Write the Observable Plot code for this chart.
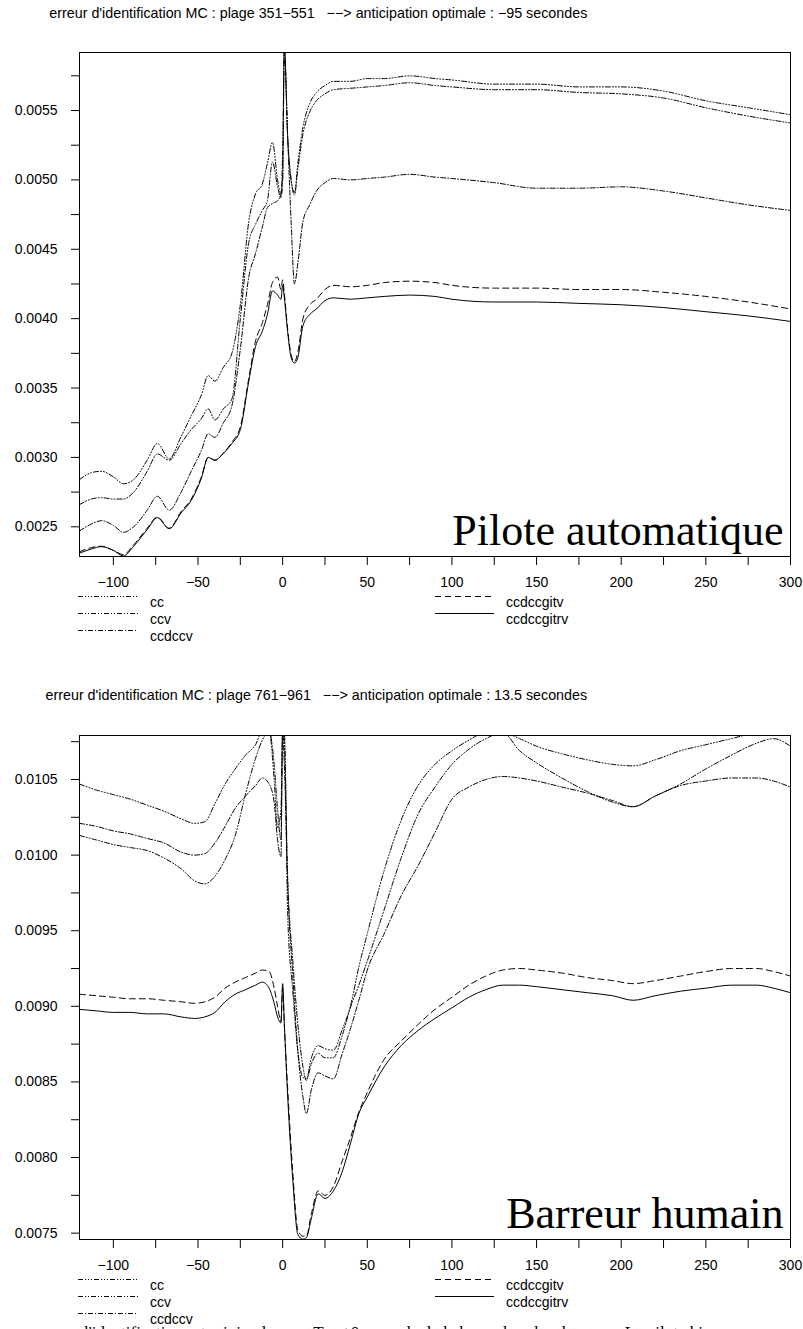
<!DOCTYPE html>
<html><head><meta charset="utf-8">
<script src="https://cdn.jsdelivr.net/npm/d3@7"></script>
<script src="https://cdn.jsdelivr.net/npm/@observablehq/plot@0.6"></script>
<style>
body{margin:0;background:#fff;}
#root{position:relative;width:803px;height:1329px;overflow:hidden;background:#fff;}
#root > div, #root > svg{position:absolute;left:0;}
</style></head><body><div id="root"></div>
<script>
// ---------------- data ----------------
const seriesNames = ["cc", "ccv", "ccdccv", "ccdccgitv", "ccdccgitrv"];
const dashes = ["5,2,1,2,1,2,1,2", "5,2,1,2,1,2", "5,2,1,2", "6,4", null];

const titleTop = "erreur d'identification MC : plage 351\u2212551   \u2212\u2212> anticipation optimale : \u221295 secondes";
const titleBottom = "erreur d'identification MC : plage 761\u2212961   \u2212\u2212> anticipation optimale : 13.5 secondes";
const labelTop = "Pilote automatique";
const labelBottom = "Barreur humain";
const caption = "l'identification est minimale pour T \u2248 +0 seconde de la barre dans les deux cas. Le pilote hi";

const xTicks = [-100, -75, -50, -25, 0, 25, 50, 75, 100, 125, 150, 175, 200, 225, 250, 275, 300];
const yTicksTop = [0.0025, 0.00275, 0.003, 0.00325, 0.0035, 0.00375, 0.004, 0.00425, 0.0045, 0.00475, 0.005, 0.00525, 0.0055, 0.00575];
const yTicksBottom = [0.0075, 0.00775, 0.008, 0.00825, 0.0085, 0.00875, 0.009, 0.00925, 0.0095, 0.00975, 0.01, 0.01025, 0.0105, 0.01075];

// top panel (Pilote automatique)
const xT = [-120,-113,-107,-100,-94,-88,-80,-74,-67,-60,-54,-48,-44,-40,-35,-30,-25,-20,-16,-12,-9,-6,-3,-1,0,1,3,5,7,9,12,16,20,25,30,40,50,60,75,90,100,125,150,175,200,225,250,275,300];
const topCc = [.00284,.00289,.00290,.00286,.00281,.00284,.00298,.00310,.00299,.00315,
  .00330,.00345,.00359,.00355,.00365,.00375,.00410,.00470,.00490,.00497,
  .00512,.00527,.00500,.00490,.00500,.00595,.00530,.00500,.00491,.00512,
  .00538,.00555,.00563,.00568,.00571,.00571,.00573,.00573,.00575,.00573,
  .00572,.00569,.00569,.00567,.00567,.00564,.00557,.00552,.00547];
const topCcv = [.00266,.00270,.00271,.00270,.00270,.00275,.00290,.003025,.00298,.00310,
  .00320,.00328,.00335,.00327,.00335,.00342,.00400,.00455,.00468,.00478,
  .00485,.00513,.00495,.00487,.00500,.00595,.00530,.00500,.00489,.00508,
  .00533,.00549,.00557,.00562,.00565,.00566,.00567,.00568,.00570,.00568,
  .00567,.00565,.00565,.00563,.00562,.00559,.00552,.00546,.00541];
const topCcdccv = [.00247,.00252,.002544,.00251,.00246,.00250,.00262,.00272,.00262,.00275,
  .00290,.00305,.00317,.003145,.00325,.00337,.00378,.00430,.00447,.00466,
  .00480,.00483,.00485,.00490,.00520,.00595,.00530,.00470,.00425,.00440,
  .00470,.00482,.00492,.00498,.00501,.00500,.00501,.00502,.00504,.00502,
  .00501,.00498,.00494,.00494,.00495,.00492,.00487,.00482,.00478];
const topGitv = [.00232,.00235,.00236,.00233,.00230,.00237,.00249,.00257,.00249,.00261,
  .00270,.00286,.00300,.00298,.00303,.00311,.00322,.00357,.00384,.00397,
  .00410,.00426,.00430,.00421,.00428,.00418,.00392,.00374,.00369,.00376,
  .00400,.00410,.00414,.00421,.00424,.00423,.00424,.00426,.00427,.00426,
  .00424,.00422,.00422,.00421,.00421,.00419,.00416,.00412,.00407];
const topGitrv = [.00231,.00234,.002357,.00233,.00229,.00236,.00248,.002566,.002486,.00260,
  .00269,.00285,.00300,.00298,.00303,.00310,.00320,.00355,.00380,.00391,
  .00403,.00420,.00417,.00414,.00424,.00415,.00390,.00372,.00368,.00372,
  .00395,.00403,.00407,.00413,.00415,.00414,.00415,.00416,.00417,.00416,
  .00414,.00412,.00412,.00411,.00410,.00408,.00405,.00402,.00398];

// bottom panel (Barreur humain)
const xB = [-120,-110,-100,-90,-80,-70,-60,-52,-46,-40,-34,-28,-22,-16,-12,-8,-5,-3,-1,0,1,3,6,9,12,14,17,21,25,30,35,40,45,50,60,70,80,90,100,110,120,130,140,150,165,180,195,207,220,235,250,265,280,290,300];
const botCc = [.01047,.01043,.01040,.01037,.01033,.01029,.01024,.01021,.01022,.01034,
  .01047,.01057,.01066,.01073,.01082,.01082,.01050,.01018,.01030,.01082,
  .01082,.00960,.00910,.00870,.00853,.00852,.00866,.00874,.00872,.00871,
  .00884,.00900,.00926,.00948,.00990,.01023,.01046,.01060,.01069,.01076,
  .01081,.01081,.01077,.01072,.01067,.01063,.01060,.01059,.01063,.01069,
  .01073,.01077,.01081,.01082,.01082];
const botCcv = [.01013,.01010,.01007,.01005,.01003,.00998,.00991,.00983,.00981,.00986,
  .00997,.01013,.01040,.01064,.01076,.01082,.01060,.01030,.01010,.01082,
  .01075,.00985,.00930,.00888,.00860,.00851,.00862,.00869,.00866,.00866,
  .00880,.00899,.00914,.00930,.00964,.00998,.01027,.01045,.01060,.01070,
  .01077,.01081,.01069,.01061,.01051,.01042,.01035,.01032,.01039,.01047,
  .01057,.01066,.01074,.01077,.01072];
const botCcdccv = [.01021,.01019,.01016,.01014,.01011,.01008,.01002,.01000,.01001,.01008,
  .01019,.01031,.01039,.01046,.01051,.01047,.01035,.01010,.00999,.01082,
  .01060,.00980,.00920,.00870,.00840,.00829,.00845,.00856,.00854,.00852,
  .00868,.00885,.00904,.00924,.00948,.00973,.00993,.01015,.01037,.01045,
  .01050,.01052,.01051,.01049,.01045,.01041,.01036,.01032,.01039,.01046,
  .01049,.01051,.01051,.01049,.01045];
const botGitv = [.00908,.00907,.00906,.00905,.00905,.00904,.00903,.00902,.00903,.00906,
  .00912,.00916,.00919,.00922,.00924,.00923,.00912,.00900,.00890,.00912,
  .00888,.00845,.00790,.00752,.00748,.00748,.00763,.00778,.00775,.00781,
  .00797,.00813,.00830,.00843,.00865,.00877,.00888,.00898,.00906,.00914,
  .00920,.00924,.00925,.00924,.00922,.00919,.00917,.00915,.00917,.00920,
  .00923,.00925,.00925,.00923,.00920];
const botGitrv = [.00898,.00897,.00896,.00896,.00895,.00895,.00893,.00892,.00893,.00896,
  .00903,.00908,.00911,.00914,.00916,.00912,.00902,.00893,.00889,.00915,
  .00888,.00840,.00785,.00749,.00746,.00747,.00760,.00776,.00773,.00778,
  .00790,.00809,.00829,.00840,.00860,.00874,.00884,.00892,.00899,.00906,
  .00911,.00914,.00914,.00913,.00911,.00909,.00907,.00904,.00907,.00910,
  .00912,.00914,.00914,.00912,.00909];

// ---------------- drawing ----------------
const W = 803, ML = 79, MR = 13, MT = 52, FH = 504, MB = 40;
const sans = "'Liberation Sans', Arial, Helvetica, sans-serif";
const serif = "'Liberation Serif', 'Times New Roman', serif";
const fmtX = d => d % 50 === 0 ? (d < 0 ? "\u2212" + (-d) : String(d)) : "";
const fmtY = d => Math.round(d / 0.00025) % 2 === 0 ? d.toFixed(4) : "";

function makePanel(xs, values, yDomain, yTicks, label) {
  const marks = [
    Plot.frame({stroke: "black", strokeWidth: 1}),
    Plot.axisX(xTicks, {tickSize: 9, tickPadding: 12, tickFormat: fmtX, label: null, fontSize: 14}),
    Plot.axisY(yTicks, {tickSize: 8, tickPadding: 14, tickFormat: fmtY, label: null, fontSize: 14})
  ];
  values.forEach((vals, k) => {
    const d = vals.map((v, i) => ({x: xs[i], y: v, s: seriesNames[k]}));
    marks.push(Plot.line(d, {x: "x", y: "y", stroke: "black", strokeWidth: 1,
      strokeDasharray: dashes[k] || undefined, curve: "monotone-x", clip: true}));
  });
  marks.push(Plot.text([label], {text: d => d, frameAnchor: "bottom-right", textAnchor: "end",
    lineAnchor: "bottom", dx: -7, dy: -12, fontSize: 44, fontFamily: serif, fill: "black"}));
  return Plot.plot({
    width: W, height: MT + FH + MB,
    marginTop: MT, marginBottom: MB, marginLeft: ML, marginRight: MR,
    x: {domain: [-120, 300], label: null},
    y: {domain: yDomain, label: null},
    style: {fontFamily: sans, fontSize: "14px", color: "black", background: "white"},
    marks
  });
}

const root = document.getElementById("root");
const p1 = makePanel(xT, [topCc, topCcv, topCcdccv, topGitv, topGitrv], [0.002286, 0.005918], yTicksTop, labelTop);
p1.style.position = "absolute"; p1.style.top = "0px"; p1.style.left = "0px";
root.appendChild(p1);
const p2 = makePanel(xB, [botCc, botCcv, botCcdccv, botGitv, botGitrv], [0.007458, 0.010791], yTicksBottom, labelBottom);
p2.style.position = "absolute"; p2.style.top = "683px"; p2.style.left = "0px";
root.appendChild(p2);

// overlay: titles, legends, caption
const ov = d3.select(root).append("svg").attr("width", W).attr("height", 1329)
  .style("position", "absolute").style("top", "0px").style("left", "0px")
  .style("font-family", sans);
ov.append("text").attr("x", 49.3).attr("y", 17.5).attr("font-size", 14.3).attr("fill", "black")
  .style("white-space", "pre").text(titleTop);
ov.append("text").attr("x", 45.5).attr("y", 699.5).attr("font-size", 14.3).attr("fill", "black")
  .style("white-space", "pre").text(titleBottom);

function legend(frameBottom) {
  const rows = [40.5, 57.5, 74.5];
  seriesNames.forEach((name, k) => {
    const col = k < 3 ? 0 : 1, row = k < 3 ? k : k - 3;
    const x1 = col === 0 ? 78 : 435, x2 = col === 0 ? 138 : 494, tx = col === 0 ? 150 : 506;
    const y = frameBottom + rows[row];
    const ln = ov.append("line").attr("x1", x1).attr("x2", x2).attr("y1", y).attr("y2", y)
      .attr("stroke", "black").attr("stroke-width", 1);
    if (dashes[k]) ln.attr("stroke-dasharray", dashes[k]);
    ov.append("text").attr("x", tx).attr("y", y + 6).attr("dy", "0.35em").attr("font-size", 14)
      .attr("fill", "black").text(name);
  });
}
legend(MT + FH);
legend(683 + MT + FH);

ov.append("text").attr("x", 84).attr("y", 1338).attr("font-size", 17).attr("font-family", serif)
  .attr("fill", "black").text(caption);
</script>
</body></html>
